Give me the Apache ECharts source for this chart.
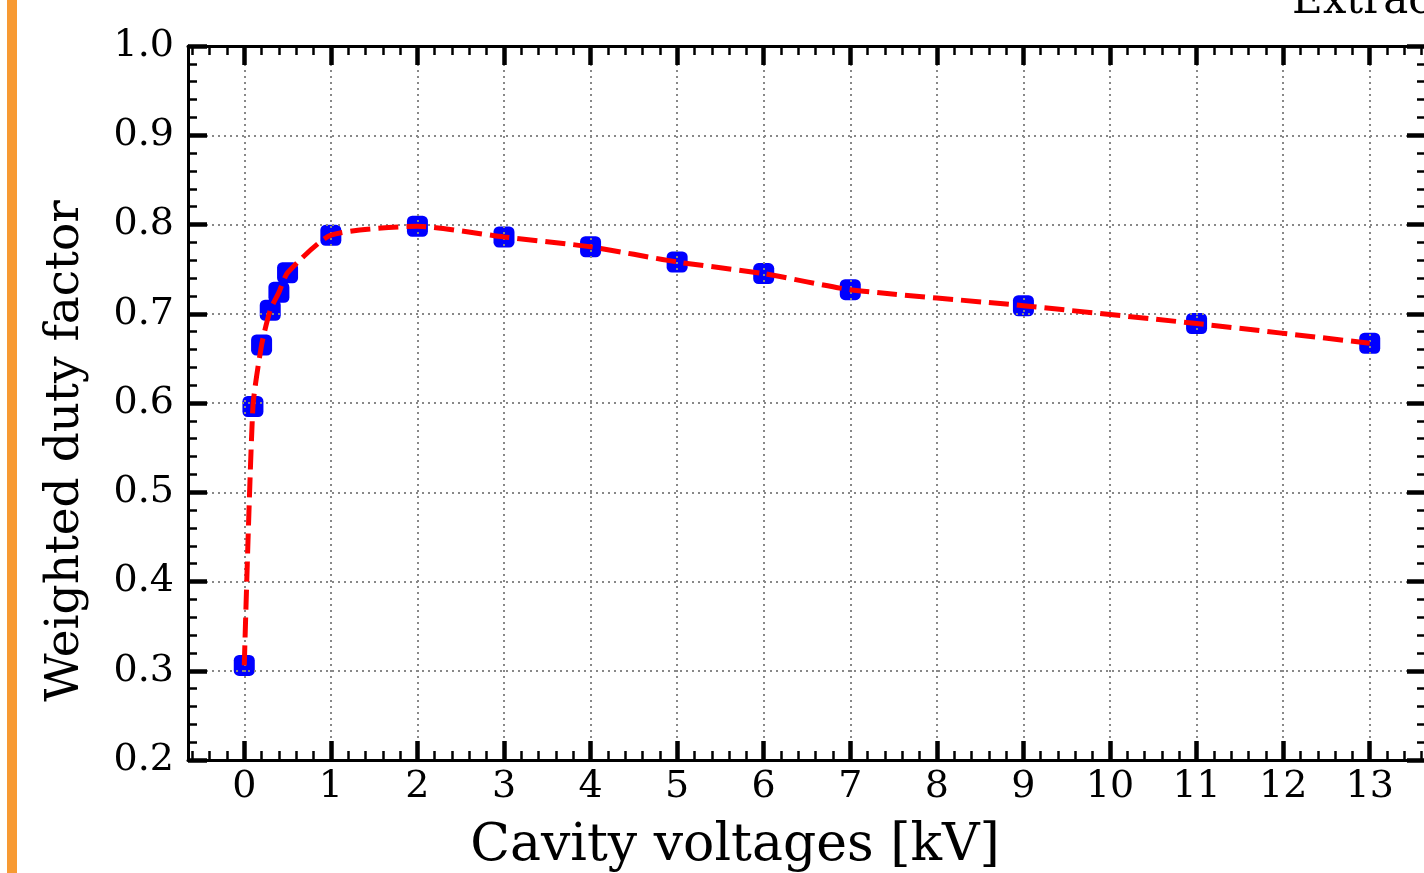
<!DOCTYPE html>
<html>
<head>
<meta charset="utf-8">
<title>Weighted duty factor vs cavity voltage</title>
<script src="https://cdn.jsdelivr.net/npm/echarts@6/dist/echarts.min.js"></script>
<style>
  html, body { margin: 0; padding: 0; background: #fff; }
  #chart { width: 1424px; height: 873px; }
</style>
</head>
<body>
<div id="chart"></div>
<script>
// Cavity voltage scan: measured weighted duty factor
const voltages = [0, 0.1, 0.2, 0.3, 0.4, 0.5, 1, 2, 3, 4, 5, 6, 7, 9, 11, 13];
const dutyFactor = [0.306, 0.596, 0.665, 0.704, 0.724, 0.746, 0.788, 0.798, 0.786, 0.775, 0.758, 0.745, 0.727, 0.709, 0.689, 0.667];

// Axis ticks
const xMajorTicks = [0, 1, 2, 3, 4, 5, 6, 7, 8, 9, 10, 11, 12, 13];
const xMinorTicks = [];
for (let k = -3; k <= 68; k++) {
  if (k % 5 !== 0) xMinorTicks.push(Math.round(k * 0.2 * 1000) / 1000);
}
const xRange = [-0.65, 13.65];
const yRange = [0.2, 1.0];

const points = voltages.map((v, i) => [v, dutyFactor[i]]);

const FONT = 'DejaVu Serif';
const majorTick = { show: true, inside: true, length: 19, lineStyle: { color: '#000', width: 4.5 } };
const minorTickLine = { show: true, inside: true, length: 9, lineStyle: { color: '#000', width: 2.5 } };
const dotted = { show: true, lineStyle: { color: '#888', width: 2, type: [2, 4] } };

function xAxisDef(position, main, minor) {
  return {
    type: 'value', position: position, min: xRange[0], max: xRange[1], z: 5,
    axisLine: { show: main, onZero: false, lineStyle: { color: '#000', width: 3 } },
    axisTick: Object.assign({}, minor ? minorTickLine : majorTick, { customValues: minor ? xMinorTicks : xMajorTicks }),
    axisLabel: (main && position === 'bottom' && !minor)
      ? { show: true, customValues: xMajorTicks, color: '#000', fontFamily: FONT, fontSize: 38, margin: 8 }
      : { show: false },
    splitLine: (main && position === 'bottom') ? dotted : { show: false },
    minorTick: { show: false },
    minorSplitLine: { show: false }
  };
}

function yAxisDef(position) {
  const left = position === 'left';
  return {
    type: 'value', position: position, min: yRange[0], max: yRange[1], interval: 0.1, z: 5,
    axisLine: { show: true, onZero: false, lineStyle: { color: '#000', width: 3 } },
    axisTick: majorTick,
    minorTick: Object.assign({ splitNumber: 5 }, minorTickLine),
    axisLabel: left
      ? { show: true, color: '#000', fontFamily: FONT, fontSize: 38, margin: 14, formatter: v => v.toFixed(1) }
      : { show: false },
    splitLine: left ? dotted : { show: false }
  };
}

const chart = echarts.init(document.getElementById('chart'), null, { renderer: 'canvas' });
chart.setOption({
  animation: false,
  backgroundColor: '#fff',
  grid: { left: 188, top: 46, width: 1238, height: 714, outerBoundsMode: 'none', containLabel: false },
  xAxis: [
    xAxisDef('bottom', true, false),
    xAxisDef('bottom', false, true),
    xAxisDef('top', true, false),
    xAxisDef('top', false, true)
  ],
  yAxis: [yAxisDef('left'), yAxisDef('right')],
  series: [
    {
      name: 'markers', type: 'scatter', data: points, z: 2,
      symbol: 'roundRect', symbolSize: 21,
      itemStyle: { color: '#0000ff', opacity: 1 }
    },
    {
      name: 'curve', type: 'line', data: points, z: 8,
      smooth: 0.2, showSymbol: false, symbol: 'none',
      lineStyle: { color: '#ff0000', width: 5, type: [20, 8] }
    }
  ],
  graphic: [
    { type: 'rect', left: 7, top: 0, shape: { width: 10, height: 873 }, style: { fill: '#f79a33' } },
    { type: 'text', x: 735, y: 846, style: { text: 'Cavity voltages [kV]', font: '52px "DejaVu Serif"', fill: '#000', align: 'center', verticalAlign: 'middle' } },
    { type: 'text', x: 66, y: 451, rotation: Math.PI / 2, style: { text: 'Weighted duty factor', font: '47px "DejaVu Serif"', fill: '#000', align: 'center', verticalAlign: 'middle' } },
    { type: 'text', x: 1292, y: 23, style: { text: 'Extraction', font: '42px "DejaVu Serif"', fill: '#000', align: 'left', verticalAlign: 'bottom' } }
  ]
});
</script>
</body>
</html>
